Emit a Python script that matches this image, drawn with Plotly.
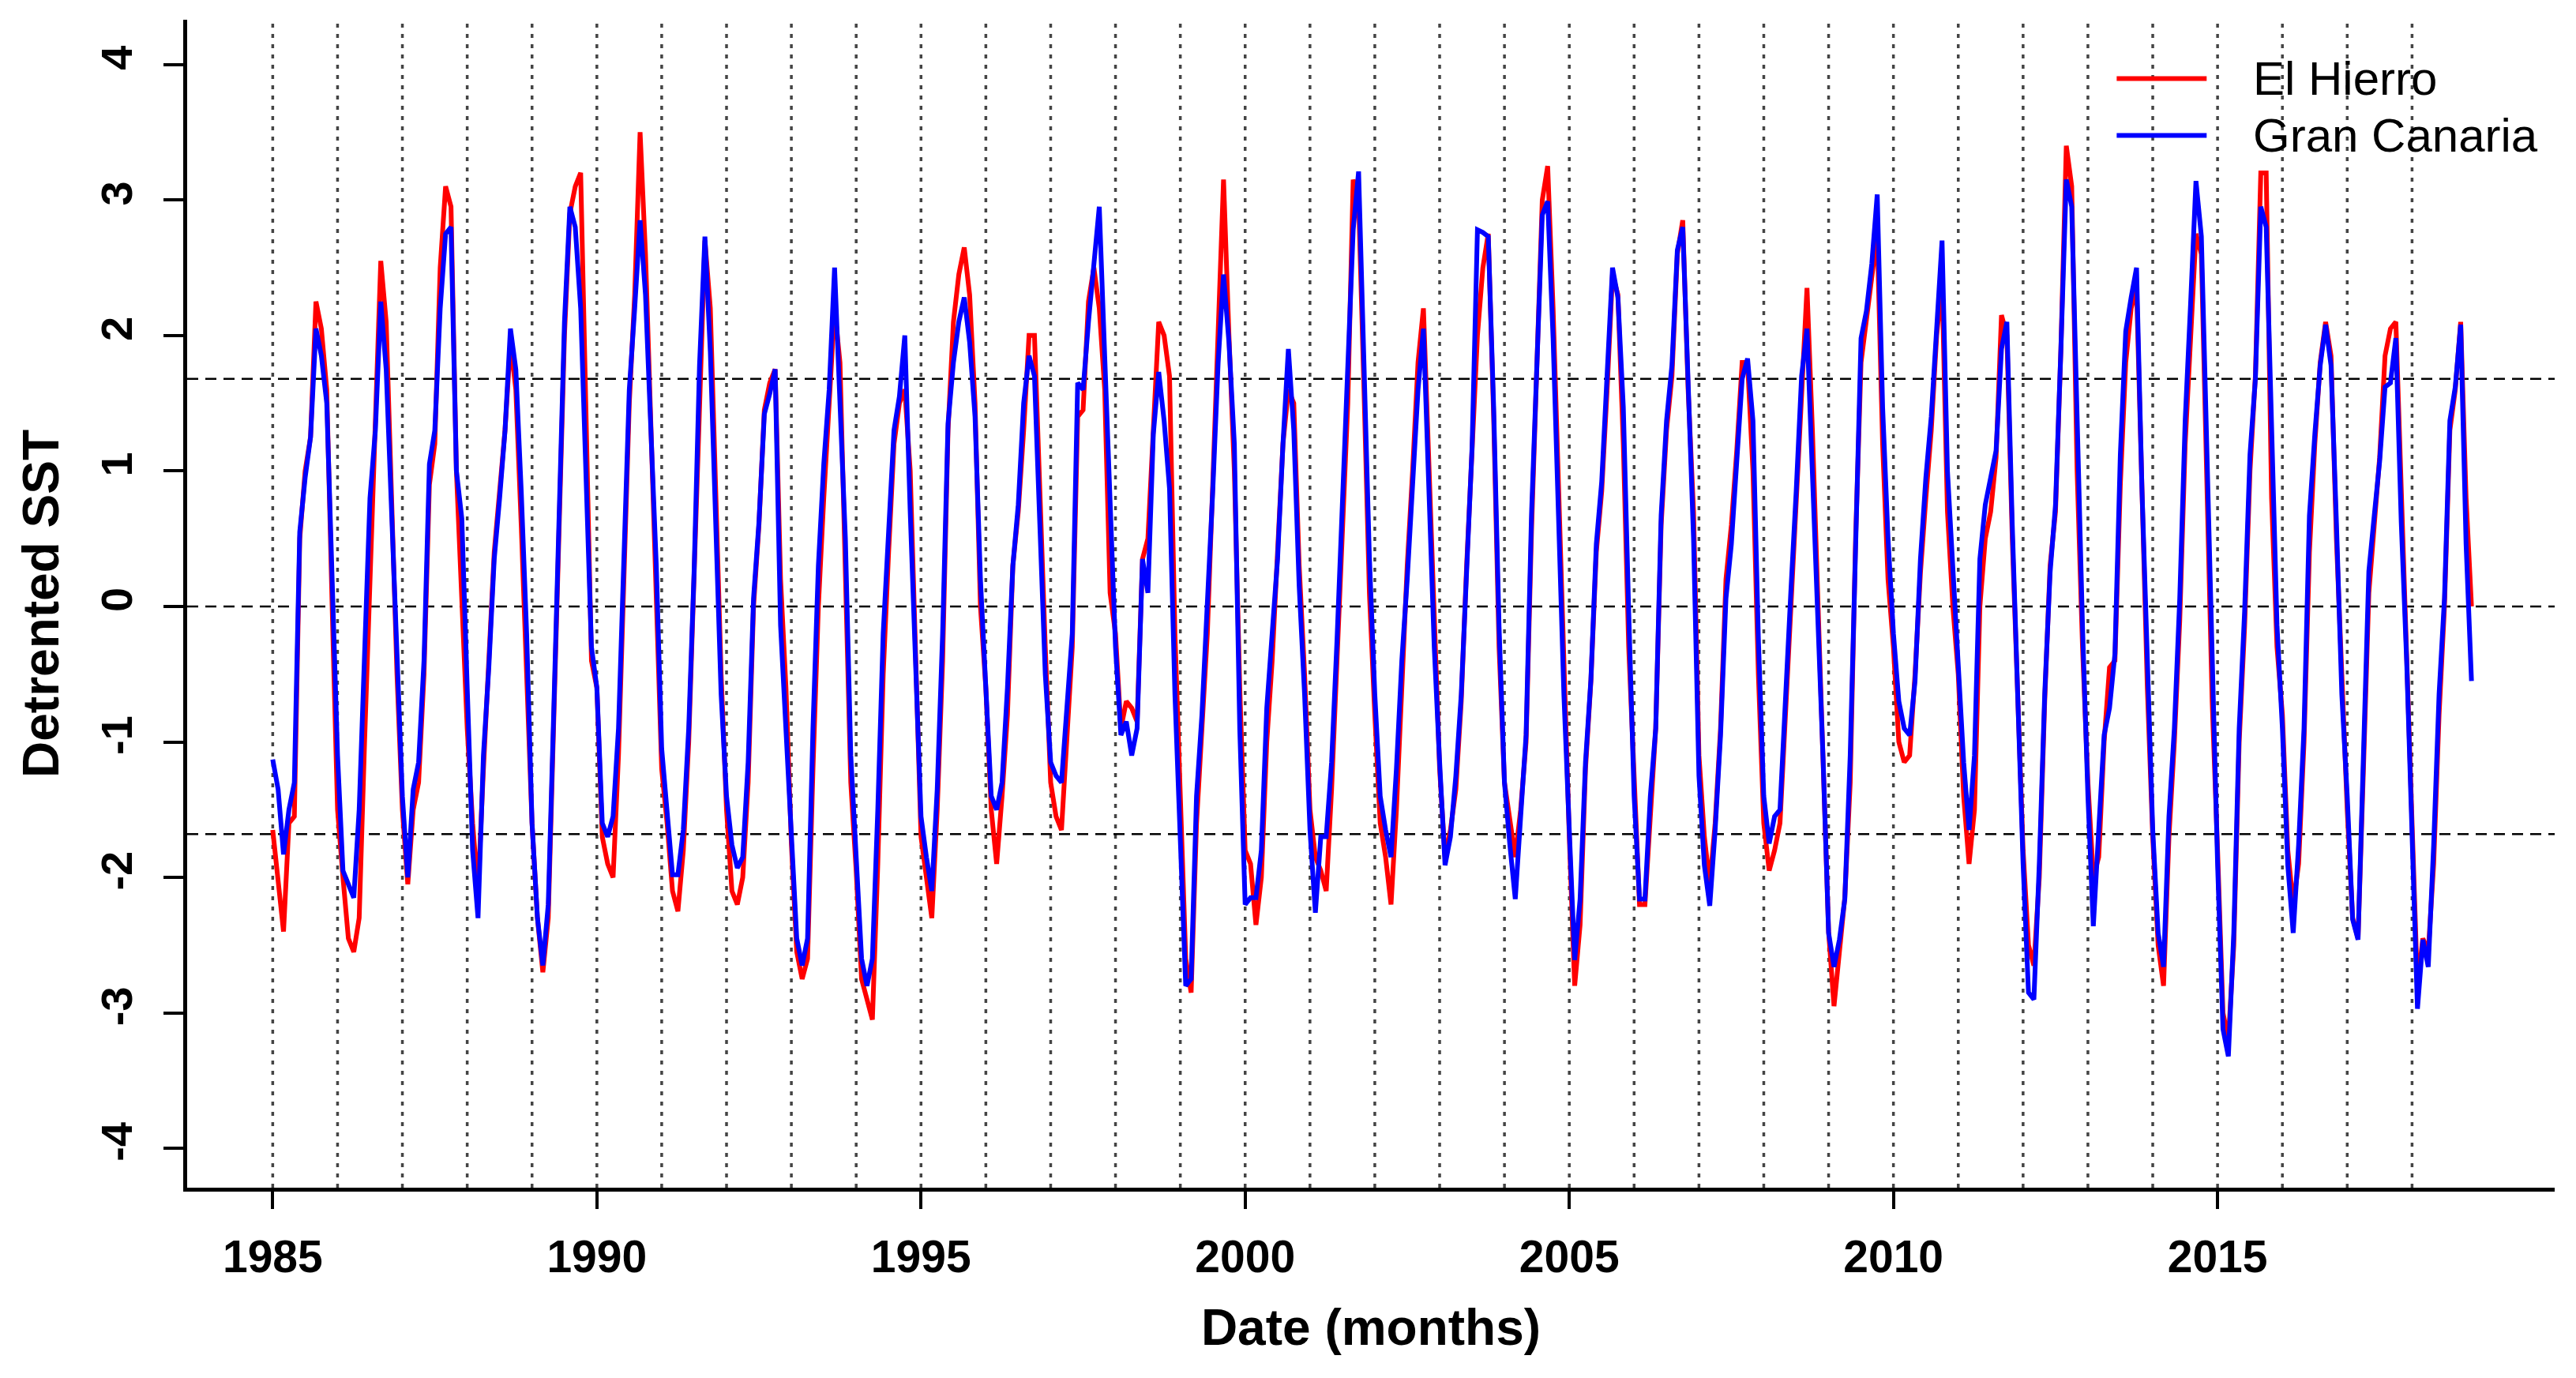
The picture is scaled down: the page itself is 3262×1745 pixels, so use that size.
"""
Detrented SST, El Hierro vs Gran Canaria, monthly values 1985-2018.
Values read by eye off the reference figure.
"""
import plotly.graph_objects as go

# --- data -------------------------------------------------------------------
start_year = 1985

# El Hierro (red), one row per year, Jan..Dec
el_hierro = [
    -1.65, -2.0, -2.4, -1.6, -1.55, 0.5, 1.0, 1.25, 2.25, 2.05, 1.6, 0.0,      # 1985
    -1.5, -2.0, -2.45, -2.55, -2.3, -1.0, 0.2, 1.15, 2.55, 2.1, 0.8, -0.5,     # 1986
    -1.5, -2.05, -1.5, -1.3, -0.5, 0.9, 1.2, 2.5, 3.1, 2.95, 1.0, 0.0,         # 1987
    -0.9, -1.6, -2.1, -1.2, -0.4, 0.4, 0.85, 1.3, 1.95, 1.6, 0.6, -0.4,        # 1988
    -1.6, -2.3, -2.7, -2.3, -0.9, 0.7, 2.0, 2.9, 3.1, 3.2, 1.5, -0.4,          # 1989
    -0.6, -1.7, -1.9, -2.0, -1.1, 0.2, 1.5, 2.3, 3.5, 2.6, 1.4, 0.0,           # 1990
    -1.2, -1.6, -2.1, -2.25, -1.8, -1.0, 0.2, 1.5, 2.7, 2.2, 0.8, -0.5,        # 1991
    -1.5, -2.1, -2.2, -2.0, -1.3, 0.0, 0.6, 1.45, 1.65, 1.75, 0.2, -0.6,       # 1992
    -1.75, -2.55, -2.75, -2.6, -1.2, 0.0, 0.8, 1.55, 2.2, 1.8, 0.3, -1.3,      # 1993
    -1.95, -2.75, -2.9, -3.05, -1.9, -0.5, 0.4, 1.2, 1.5, 1.6, 1.0, -0.3,      # 1994
    -1.7, -2.0, -2.3, -1.5, -0.4, 1.3, 2.1, 2.45, 2.65, 2.3, 1.5, 0.0,         # 1995
    -0.6, -1.5, -1.9, -1.4, -0.8, 0.3, 0.7, 1.3, 2.0, 2.0, 0.8, -0.3,          # 1996
    -1.3, -1.55, -1.65, -1.0, -0.3, 1.4, 1.45, 2.25, 2.5, 2.2, 1.6, 0.1,       # 1997
    -0.2, -0.9, -0.7, -0.75, -0.85, 0.35, 0.5, 1.3, 2.1, 2.0, 1.7, -0.2,       # 1998
    -1.5, -2.6, -2.85, -1.6, -0.9, -0.2, 0.9, 2.0, 3.15, 2.0, 1.0, -0.6,       # 1999
    -1.8, -1.9, -2.35, -2.0, -1.0, -0.4, 0.4, 1.2, 1.6, 1.5, 0.3, -0.5,        # 2000
    -1.5, -1.85, -1.95, -2.1, -1.35, -0.4, 0.7, 1.5, 3.15, 3.0, 1.6, 0.1,      # 2001
    -0.8, -1.6, -1.85, -2.2, -1.5, -0.5, 0.3, 1.0, 1.8, 2.2, 1.0, -0.2,        # 2002
    -1.2, -1.85, -1.65, -1.35, -0.7, 0.3, 1.2, 2.0, 2.5, 2.75, 1.4, -0.3,      # 2003
    -1.3, -1.6, -1.85, -1.5, -1.0, 0.55, 1.7, 3.0, 3.25, 2.2, 0.9, -0.5,       # 2004
    -1.7, -2.8, -2.35, -1.2, -0.55, 0.4, 0.85, 1.6, 2.45, 2.3, 1.2, -0.3,      # 2005
    -1.3, -2.2, -2.2, -1.5, -0.9, 0.6, 1.3, 1.7, 2.6, 2.85, 1.6, 0.7,          # 2006
    -1.1, -1.7, -2.05, -1.6, -0.9, 0.2, 0.6, 1.15, 1.8, 1.8, 1.0, -0.5,        # 2007
    -1.6, -1.95, -1.8, -1.6, -0.8, 0.0, 0.75, 1.6, 2.35, 1.3, 0.0, -1.2,       # 2008
    -2.4, -2.95, -2.55, -2.15, -1.3, 0.5, 1.8, 2.1, 2.45, 2.75, 1.2, 0.2,      # 2009
    -0.3, -1.0, -1.15, -1.1, -0.5, 0.25, 0.8, 1.3, 2.0, 2.4, 0.7, 0.0,         # 2010
    -0.5, -1.4, -1.9, -1.5, 0.0, 0.5, 0.7, 1.1, 2.15, 2.0, 0.5, -0.7,          # 2011
    -1.8, -2.5, -2.65, -2.0, -0.7, 0.3, 0.7, 1.9, 3.4, 3.1, 1.0, -0.3,         # 2012
    -1.3, -2.0, -1.85, -1.0, -0.45, -0.4, 0.9, 1.8, 2.2, 2.35, 0.7, -0.6,      # 2013
    -1.7, -2.5, -2.8, -1.7, -1.0, -0.1, 1.2, 2.0, 2.75, 2.6, 0.9, -0.7,        # 2014
    -1.8, -3.0, -3.2, -2.5, -1.0, -0.15, 1.0, 1.7, 3.2, 3.2, 0.8, -0.3,        # 2015
    -0.8, -1.8, -2.2, -1.9, -1.0, 0.4, 1.2, 1.8, 2.1, 1.85, 0.5, -0.6,         # 2016
    -1.5, -2.3, -2.45, -1.2, 0.1, 0.6, 1.1, 1.85, 2.05, 2.1, 0.8, -0.3,        # 2017
    -1.6, -2.8, -2.45, -2.55, -1.9, -0.8, 0.0, 1.3, 1.6, 2.1, 0.8, 0.0,        # 2018
]

# Gran Canaria (blue)
gran_canaria = [
    -1.13, -1.35, -1.83, -1.5, -1.3, 0.55, 0.95, 1.25, 2.05, 1.85, 1.5, 0.1,          # 1985
    -1.1, -1.95, -2.05, -2.15, -1.5, -0.4, 0.8, 1.3, 2.25, 1.75, 0.6, -0.35,          # 1986
    -1.4, -2.0, -1.35, -1.15, -0.4, 1.05, 1.3, 2.2, 2.75, 2.8, 1.0, 0.65,             # 1987
    -0.6, -1.8, -2.3, -1.1, -0.45, 0.35, 0.8, 1.3, 2.05, 1.75, 0.85, -0.2,            # 1988
    -1.6, -2.3, -2.65, -2.2, -0.8, 0.8, 2.1, 2.95, 2.8, 2.2, 0.9, -0.3,               # 1989
    -0.6, -1.6, -1.7, -1.55, -0.9, 0.3, 1.6, 2.2, 2.85, 2.3, 1.3, 0.3,                # 1990
    -1.05, -1.55, -1.98, -1.98, -1.65, -0.9, 0.26, 1.78, 2.73, 1.88, 0.62, -0.65,     # 1991
    -1.4, -1.76, -1.93, -1.85, -1.15, 0.06, 0.62, 1.42, 1.57, 1.75, -0.14, -0.9,      # 1992
    -1.7, -2.45, -2.65, -2.45, -0.9, 0.3, 1.05, 1.6, 2.5, 1.5, 0.5, -1.1,             # 1993
    -1.9, -2.6, -2.8, -2.6, -1.5, -0.2, 0.55, 1.3, 1.55, 2.0, 0.7, -0.4,              # 1994
    -1.55, -1.85, -2.1, -1.35, -0.2, 1.35, 1.8, 2.1, 2.28, 1.95, 1.4, 0.2,            # 1995
    -0.55, -1.4, -1.5, -1.3, -0.6, 0.3, 0.75, 1.5, 1.85, 1.7, 0.6, -0.5,              # 1996
    -1.15, -1.25, -1.3, -0.8, -0.2, 1.65, 1.6, 2.1, 2.55, 2.95, 1.85, 0.85,           # 1997
    -0.3, -0.95, -0.85, -1.1, -0.9, 0.35, 0.1, 1.27, 1.73, 1.37, 0.87, -0.65,         # 1998
    -1.65, -2.8, -2.75, -1.4, -0.8, -0.05, 0.85, 1.8, 2.45, 1.95, 1.2, -0.9,          # 1999
    -2.2, -2.15, -2.15, -1.8, -0.75, -0.2, 0.35, 1.2, 1.9, 1.3, 0.15, -0.65,          # 2000
    -1.65, -2.26, -1.7, -1.7, -1.15, -0.25, 0.77, 1.62, 2.78, 3.21, 1.88, 0.36,       # 2001
    -0.65, -1.4, -1.65, -1.85, -1.2, -0.4, 0.2, 0.85, 1.6, 2.05, 0.85, -0.3,          # 2002
    -1.15, -1.91, -1.7, -1.25, -0.65, 0.36, 1.17, 2.78, 2.76, 2.73, 1.47, -0.15,      # 2003
    -1.3, -1.76, -2.16, -1.55, -0.95, 0.67, 1.78, 2.89, 2.99, 1.98, 0.67, -0.65,      # 2004
    -1.65, -2.61, -2.16, -1.15, -0.54, 0.46, 0.92, 1.73, 2.5, 2.28, 1.47, -0.04,      # 2005
    -1.4, -2.16, -2.16, -1.4, -0.9, 0.67, 1.37, 1.78, 2.63, 2.8, 1.6, 0.5,            # 2006
    -1.25, -1.91, -2.21, -1.65, -0.95, 0.06, 0.46, 1.02, 1.68, 1.83, 1.37, -0.24,     # 2007
    -1.4, -1.75, -1.55, -1.5, -0.65, 0.1, 0.85, 1.7, 2.05, 1.05, -0.15, -1.15,        # 2008
    -2.41, -2.66, -2.46, -2.16, -1.1, 0.62, 1.98, 2.18, 2.53, 3.04, 1.47, 0.5,        # 2009
    -0.2, -0.7, -0.9, -0.95, -0.55, 0.35, 0.95, 1.4, 2.1, 2.7, 1.0, 0.3,              # 2010
    -0.3, -1.15, -1.65, -1.1, 0.35, 0.75, 0.95, 1.15, 1.9, 2.1, 0.6, -0.65,           # 2011
    -1.9, -2.85, -2.9, -1.9, -0.65, 0.25, 0.75, 1.9, 3.15, 2.95, 1.35, -0.15,         # 2012
    -1.4, -2.36, -1.65, -0.95, -0.75, -0.35, 1.12, 2.03, 2.28, 2.5, 0.87, -0.4,       # 2013
    -1.65, -2.41, -2.66, -1.55, -0.9, 0.06, 1.37, 2.23, 3.14, 2.73, 1.12, -0.4,       # 2014
    -1.9, -3.12, -3.32, -2.41, -0.9, -0.04, 1.12, 1.68, 2.95, 2.8, 1.37, -0.14,       # 2015
    -0.9, -1.91, -2.41, -1.76, -0.9, 0.67, 1.27, 1.78, 2.08, 1.78, 0.62, -0.65,       # 2016
    -1.4, -2.31, -2.46, -1.05, 0.26, 0.67, 1.07, 1.62, 1.65, 1.98, 0.62, -0.4,        # 2017
    -1.65, -2.97, -2.46, -2.66, -1.76, -0.65, 0.06, 1.37, 1.62, 2.08, 0.46, -0.55,    # 2018
]

# reference lines: January of each year, and the 0 / +-threshold levels
january_marks = list(range(1985, 2019))
threshold_levels = [-1.68, 0.0, 1.68]

x_tick_vals = [1985, 1990, 1995, 2000, 2005, 2010, 2015]
y_tick_vals = [-4, -3, -2, -1, 0, 1, 2, 3, 4]
y_tick_text = ["-4", "-3", "-2", "-1", "0", "1", "2", "3", "4"]

series_names = ["El Hierro", "Gran Canaria"]
series_colors = ["#ff0000", "#0000ff"]

# decimal-year time axis (like an R ts object)
t = [start_year + i / 12 for i in range(len(el_hierro))]

FONT = "Liberation Sans, Arial, Helvetica, sans-serif"

fig = go.Figure()

for yr in january_marks:
    fig.add_vline(x=yr, line=dict(color="#444444", width=3.5, dash="5px,8px"), layer="below")
for lev in threshold_levels:
    fig.add_hline(y=lev, line=dict(color="#000000", width=2.5, dash="14px,9px"), layer="below")

for name, vals, col in zip(series_names, [el_hierro, gran_canaria], series_colors):
    fig.add_trace(go.Scatter(x=t, y=vals, mode="lines", name=name,
                             line=dict(color=col, width=6), showlegend=False))

# legend drawn by hand (long line samples, no box, like base R legend)
leg_y = [0.9497, 0.9010]
for name, col, yy in zip(series_names, series_colors, leg_y):
    fig.add_shape(type="line", xref="paper", yref="paper",
                  x0=0.815, x1=0.853, y0=yy, y1=yy,
                  line=dict(color=col, width=6))
    fig.add_annotation(x=0.872, y=yy, xref="paper", yref="paper", text=name,
                       showarrow=False, xanchor="left", yanchor="middle",
                       font=dict(family=FONT, size=60, color="black"))

# page body has an 8px margin, so the figure is 16px smaller than the window
fig.update_layout(
    width=3246, height=1729,
    margin=dict(l=229, r=19, t=17, b=233),
    paper_bgcolor="white", plot_bgcolor="white",
    font=dict(family=FONT, color="black"),
)

fig.update_xaxes(
    range=[1983.68, 2020.2], showgrid=False, zeroline=False, automargin=False,
    showline=True, linecolor="black", linewidth=5,
    ticks="outside", ticklen=22, tickwidth=4, tickcolor="black",
    tickvals=x_tick_vals, ticktext=[str(v) for v in x_tick_vals],
    tickfont=dict(family=FONT, size=57, weight="bold"),
    ticklabelstandoff=12,
    title=dict(text="Date (months)", standoff=37,
               font=dict(family=FONT, size=64, weight="bold")),
)
fig.update_yaxes(
    range=[-4.29, 4.33], showgrid=False, zeroline=False, automargin=False,
    showline=True, linecolor="black", linewidth=5,
    ticks="outside", ticklen=25, tickwidth=4, tickcolor="black",
    tickvals=y_tick_vals, ticktext=y_tick_text, tickangle=-90,
    tickfont=dict(family=FONT, size=56, weight="bold"),
    ticklabelstandoff=18,
    title=dict(text="Detrented SST", standoff=22,
               font=dict(family=FONT, size=64, weight="bold")),
)

fig.write_html("out.html")
